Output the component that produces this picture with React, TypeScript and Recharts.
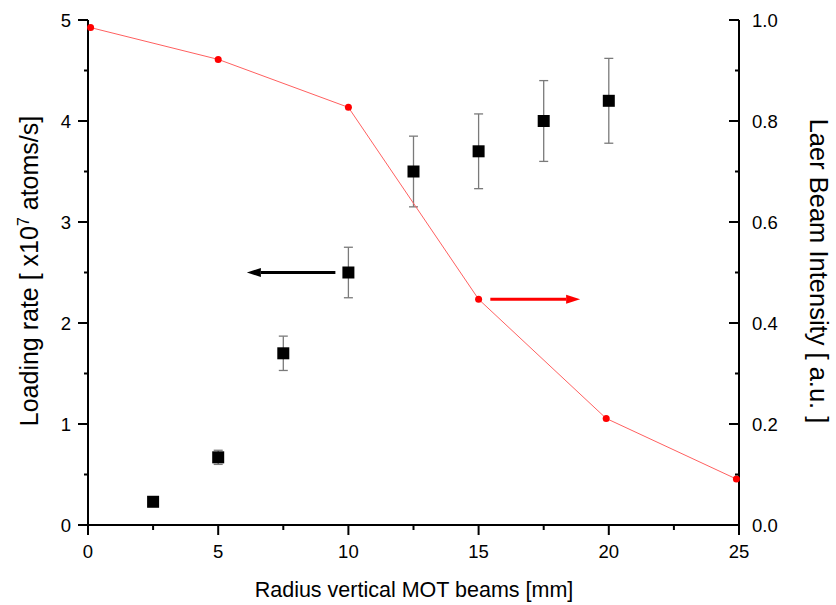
import { ComposedChart, Scatter, XAxis, YAxis, ErrorBar, ReferenceLine } from "recharts";

// loading rate (left axis, x10^7 atoms/s)
const radius = [2.5, 5, 7.5, 10, 12.5, 15, 17.5, 20];
const loadingRate = [0.23, 0.67, 1.7, 2.5, 3.5, 3.7, 4.0, 4.2];
const rateErrLow = [0.02, 0.07, 0.17, 0.25, 0.35, 0.37, 0.4, 0.42];
const rateErrHigh = [0.02, 0.07, 0.17, 0.25, 0.35, 0.37, 0.4, 0.42];

// laser beam intensity (right axis, a.u.)
const beamRadius = [0.1, 5, 10, 15, 19.9, 24.9];
const intensity = [0.985, 0.922, 0.827, 0.447, 0.211, 0.091];

const xTicks = [0, 2.5, 5, 7.5, 10, 12.5, 15, 17.5, 20, 22.5, 25];
const leftTicks = [0, 0.5, 1, 1.5, 2, 2.5, 3, 3.5, 4, 4.5, 5];
const rightTicks = [0, 0.1, 0.2, 0.3, 0.4, 0.5, 0.6, 0.7, 0.8, 0.9, 1.0];

// arrows: [fromX, toX, y]
const leftArrow = [9.5, 6.1, 2.5];
const rightArrow = [15.45, 18.9, 0.447];

const rateData = radius.map((x, i) => ({
  x,
  y: loadingRate[i],
  err: [rateErrLow[i], rateErrHigh[i]],
}));
const beamData = beamRadius.map((x, i) => ({ x, y: intensity[i] }));

const FONT = "'Liberation Sans', Arial, sans-serif";

function BottomTick({ x, y, payload }: any) {
  const major = payload.value % 5 === 0;
  return (
    <g>
      <line x1={x} y1={y} x2={x} y2={y + (major ? 10 : 5)} stroke="#000" strokeWidth={2} />
      {major && (
        <text x={x} y={y + 33} textAnchor="middle" fontSize={18.5} fill="#000" fontFamily={FONT}>
          {payload.value}
        </text>
      )}
    </g>
  );
}

function TopTick({ x, y, payload }: any) {
  const major = payload.value % 5 === 0;
  return <line x1={x} y1={y} x2={x} y2={y + (major ? 10 : 5)} stroke="#000" strokeWidth={2} />;
}

function LeftTick({ x, y, payload }: any) {
  const major = Number.isInteger(payload.value);
  return (
    <g>
      <line x1={x} y1={y} x2={x - (major ? 10 : 4)} y2={y} stroke="#000" strokeWidth={2} />
      {major && (
        <text x={x - 17} y={y} dy="0.36em" textAnchor="end" fontSize={18.5} fill="#000" fontFamily={FONT}>
          {payload.value}
        </text>
      )}
    </g>
  );
}

function RightTick({ x, y, payload }: any) {
  const major = Math.round(payload.value * 10) % 2 === 0;
  return (
    <g>
      <line x1={x} y1={y} x2={x - (major ? 10 : 4)} y2={y} stroke="#000" strokeWidth={2} />
      {major && (
        <text x={x + 13} y={y} dy="0.36em" textAnchor="start" fontSize={18.5} fill="#000" fontFamily={FONT}>
          {payload.value.toFixed(1)}
        </text>
      )}
    </g>
  );
}

function Arrow(props: any) {
  const { x1, y1, x2, y2, stroke } = props;
  const dir = Math.sign(x2 - x1);
  const head = 14;
  return (
    <g>
      <line x1={x1} y1={y1} x2={x2 - dir * head} y2={y2} stroke={stroke} strokeWidth={3} />
      <polygon
        points={`${x2},${y2} ${x2 - dir * head},${y2 - 4.5} ${x2 - dir * head},${y2 + 4.5}`}
        fill={stroke}
      />
    </g>
  );
}

export default function App() {
  return (
    <div style={{ position: "absolute", left: 0, top: 0, background: "#fff" }}>
      <ComposedChart
        width={836}
        height={605}
        margin={{ top: 20, right: 0, bottom: 0, left: 0 }}
        style={{ fontFamily: FONT }}
      >
        <XAxis
          xAxisId="bottom"
          type="number"
          dataKey="x"
          domain={[0, 25]}
          ticks={xTicks}
          interval={0}
          height={80}
          tickSize={0}
          tickMargin={0}
          tick={<BottomTick />}
          axisLine={{ stroke: "#000", strokeWidth: 2 }}
          label={{
            content: () => (
              <text x={414} y={597} textAnchor="middle" fontSize={21.5} fill="#000" fontFamily={FONT}>
                Radius vertical MOT beams [mm]
              </text>
            ),
          }}
        />
        <XAxis
          xAxisId="top"
          orientation="top"
          type="number"
          domain={[0, 25]}
          ticks={xTicks}
          interval={0}
          height={0}
          tickSize={0}
          tickMargin={0}
          tick={<TopTick />}
          axisLine={{ stroke: "#000", strokeWidth: 2 }}
        />
        <YAxis
          yAxisId="left"
          type="number"
          domain={[0, 5]}
          ticks={leftTicks}
          interval={0}
          width={88}
          tickSize={0}
          tickMargin={0}
          tick={<LeftTick />}
          axisLine={{ stroke: "#000", strokeWidth: 2 }}
          label={{
            content: () => (
              <text
                transform="translate(38 271) rotate(-90)"
                x={0}
                y={0}
                textAnchor="middle"
                fontSize={25}
                fill="#000"
                fontFamily={FONT}
              >
                Loading rate [ x10
                <tspan dy={-9} fontSize={16}>7</tspan>
                <tspan dy={9}> atoms/s]</tspan>
              </text>
            ),
          }}
        />
        <YAxis
          yAxisId="right"
          orientation="right"
          type="number"
          domain={[0, 1]}
          ticks={rightTicks}
          interval={0}
          width={97}
          tickSize={0}
          tickMargin={0}
          tick={<RightTick />}
          axisLine={{ stroke: "#000", strokeWidth: 2 }}
          label={{
            content: () => (
              <text
                transform="translate(810 271) rotate(90)"
                x={0}
                y={0}
                textAnchor="middle"
                fontSize={25.5}
                fill="#000"
                fontFamily={FONT}
              >
                Laer Beam Intensity [ a.u. ]
              </text>
            ),
          }}
        />
        <Scatter
          data={rateData}
          dataKey="y"
          xAxisId="bottom"
          yAxisId="left"
          isAnimationActive={false}
          shape={(p: any) => <rect x={p.cx - 6} y={p.cy - 6} width={12} height={12} fill="#000" />}
        >
          <ErrorBar
            dataKey="err"
            direction="y"
            width={4.5}
            stroke="#7a7a7a"
            strokeWidth={1.3}
            isAnimationActive={false}
          />
        </Scatter>
        <Scatter
          data={beamData}
          dataKey="y"
          xAxisId="bottom"
          yAxisId="right"
          isAnimationActive={false}
          line={{ stroke: "#ff6060", strokeWidth: 1 }}
          lineType="joint"
          shape={(p: any) => <circle cx={p.cx} cy={p.cy} r={3.5} fill="#ff0000" />}
        />
        <ReferenceLine
          xAxisId="bottom"
          yAxisId="left"
          segment={[
            { x: leftArrow[0], y: leftArrow[2] },
            { x: leftArrow[1], y: leftArrow[2] },
          ]}
          stroke="#000"
          shape={<Arrow />}
        />
        <ReferenceLine
          xAxisId="bottom"
          yAxisId="right"
          segment={[
            { x: rightArrow[0], y: rightArrow[2] },
            { x: rightArrow[1], y: rightArrow[2] },
          ]}
          stroke="#ff0000"
          shape={<Arrow />}
        />
      </ComposedChart>
    </div>
  );
}
